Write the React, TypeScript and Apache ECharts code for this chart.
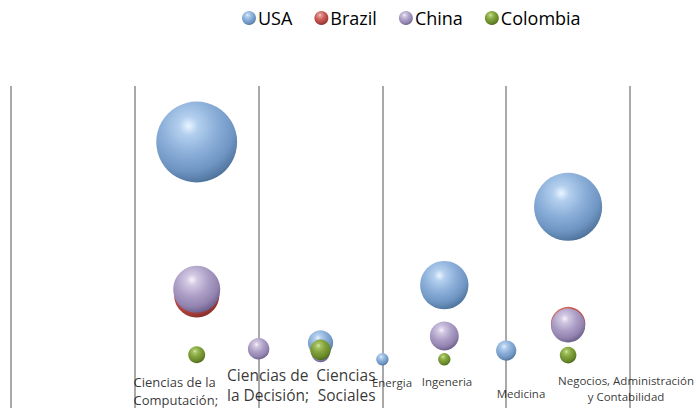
import React, { useEffect, useRef } from "react";
import * as echarts from "echarts";

// Categories (x positions 1..7 on a numeric axis from -2 to 8)
const categories = [
  "Ciencias de la Computación",
  "Ciencias de la Decisión",
  "Ciencias Sociales",
  "Energia",
  "Ingeneria",
  "Medicina",
  "Negocios, Administración y Contabilidad",
];
const categoryX = [1, 2, 3, 4, 5, 6, 7];

// Series values (y value = bubble size)
const usa = [639, null, 62, 15, 228, 40, 453];
const brazil = [200, null, null, null, null, null, 116];
const china = [216, 45, 33, null, 82, null, 112];
const colombia = [28, null, 42, null, 15, null, 27];

// Category label texts and their anchors (data coordinates)
const labelTexts = [
  "Ciencias de la\nComputación;",
  "Ciencias de\nla Decisión;",
  "Ciencias\nSociales",
  "Energia",
  "Ingeneria",
  "Medicina",
  "Negocios, Administración\ny Contabilidad",
];
const labelX = [-0.021, 1.49, 3.889, 4.155, 5.044, 6.239, 7.935];
const labelY = [-77, -58.9, -58.9, -53, -49.4, -82.7, -70];

const labelFontSizes = [13, 15.5, 15.5, 11.5, 11.5, 11.5, 11.5];
const labelLineHeights = [18, 20, 20, 14, 14, 14, 16];
const labelAligns = ["left", "left", "right", "center", "center", "center", "center"];

const FONT = "Open Sans";

function sphere(stops: string[]) {
  return new echarts.graphic.RadialGradient(0.4, 0.3, 0.78, [
    { offset: 0, color: stops[0] },
    { offset: 0.15, color: stops[1] },
    { offset: 0.45, color: stops[2] },
    { offset: 0.72, color: stops[3] },
    { offset: 0.9, color: stops[4] },
    { offset: 1, color: stops[5] },
  ]);
}

const palette: Record<string, string[]> = {
  USA: ["#eaf5ff", "#b3cfee", "#8aaed8", "#6f95c3", "#52779f", "#33557c"],
  Brazil: ["#f8d0cc", "#e0928e", "#c85a56", "#b0443f", "#8c302d", "#6a1f1d"],
  China: ["#f8f2fc", "#d2c8e2", "#ac9fc6", "#9384b0", "#716390", "#51456c"],
  Colombia: ["#d9eca8", "#a4c262", "#7f9f3a", "#698a2a", "#4e6a1c", "#344812"],
};

export default function App() {
  const ref = useRef<HTMLDivElement>(null);
  useEffect(() => {
    if (!ref.current) return;
    const chart = echarts.init(ref.current, undefined, { renderer: "svg" });

    const mk = (name: string, vals: (number | null)[]) => ({
      name,
      type: "scatter",
      data: categoryX
        .map((x, i) => (vals[i] == null ? null : [x, vals[i]]))
        .filter((d) => d !== null),
      symbolSize: (v: number[]) => 3.2 * Math.sqrt(v[1]),
      itemStyle: { color: sphere(palette[name]), opacity: 1 },
      emphasis: { disabled: true },
    });

    const labelData = labelTexts.map((t, i) => ({
      value: [labelX[i], labelY[i]],
      name: categories[i],
      label: {
        show: true,
        position: "inside",
        formatter: t,
        fontSize: labelFontSizes[i],
        lineHeight: labelLineHeights[i],
        fontFamily: FONT,
        color: "#000",
        align: labelAligns[i],
        verticalAlign: "middle",
      },
    }));

    chart.setOption({
      animation: false,
      legend: {
        data: ["USA", "Brazil", "China", "Colombia"],
        left: 237,
        top: 4,
        icon: "circle",
        itemWidth: 14,
        itemHeight: 14,
        itemGap: 22,
        textStyle: { fontSize: 18, fontFamily: FONT, color: "#000", padding: [0, 0, 0, -3] },
      },
      grid: { left: 11, right: 67, top: 86, bottom: 0, containLabel: false },
      xAxis: {
        type: "value",
        min: -2,
        max: 8,
        interval: 2,
        axisLine: { show: false },
        axisTick: { show: false },
        axisLabel: { show: false },
        splitLine: { show: true, lineStyle: { color: "#a9a9a9", width: 2 } },
      },
      yAxis: {
        type: "value",
        min: -125,
        max: 800,
        show: false,
        splitLine: { show: false },
      },
      series: [
        mk("USA", usa),
        mk("Brazil", brazil),
        mk("China", china),
        mk("Colombia", colombia),
        {
          name: "labels",
          type: "scatter",
          symbolSize: 0,
          data: labelData,
          silent: true,
          z: 10,
        },
      ],
    });
    return () => chart.dispose();
  }, []);
  return (
    <div
      ref={ref}
      style={{ position: "absolute", left: 0, top: 0, width: 697, height: 408 }}
    />
  );
}
